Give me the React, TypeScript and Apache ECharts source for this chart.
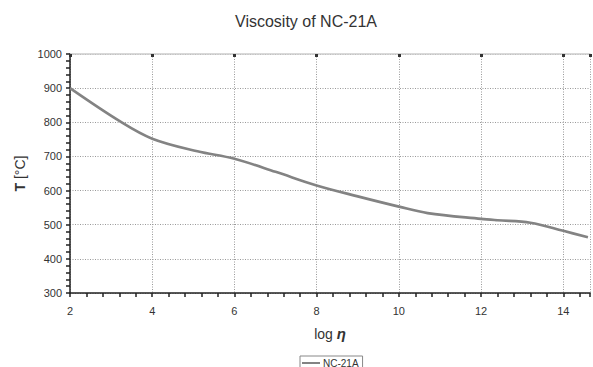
import React, { useEffect, useRef } from "react";
import * as echarts from "echarts";

// log viscosity (x) vs temperature (y)
const logEta = [2, 3.2, 4, 5.1, 6, 7, 8, 9, 10, 10.7, 12, 12.4, 13.2, 14, 14.6];
const tempC = [900, 804, 752, 715, 693, 655, 615, 583, 553, 534, 517, 513, 506, 482, 463];
const seriesName = "NC-21A";
const titleText = "Viscosity of NC-21A";

const FONT = "Liberation Sans, Arial, sans-serif";

export default function App() {
  const ref = useRef<HTMLDivElement>(null);

  useEffect(() => {
    if (!ref.current) return;
    const chart = echarts.init(ref.current, undefined, { renderer: "svg" });
    const data = logEta.map((x, i) => [x, tempC[i]]);
    chart.setOption({
      animation: false,
      backgroundColor: "#fff",
      textStyle: { fontFamily: FONT },
      title: {
        text: titleText,
        left: 230,
        top: 8,
        textStyle: { fontSize: 16, fontWeight: "normal", color: "#333", fontFamily: FONT },
      },
      legend: {
        data: [seriesName],
        left: 300,
        top: 356,
        itemWidth: 18,
        itemHeight: 2,
        itemGap: 2,
        padding: [2, 4, 2, 2],
        borderColor: "#888",
        borderWidth: 1,
        borderRadius: 0,
        icon: "rect",
        textStyle: { fontSize: 10, color: "#333", fontFamily: FONT, padding: [0, 0, 0, -2] },
      },
      grid: { left: 70, right: 1, top: 54, bottom: 74, containLabel: false },
      xAxis: [
        {
          type: "value",
          min: 2,
          max: 14.65,
          interval: 2,
          name: "{a|log }{b|η}",
          nameLocation: "middle",
          nameGap: 33,
          nameTextStyle: {
            rich: {
              a: { fontSize: 14, color: "#333", fontFamily: FONT },
              b: { fontSize: 15, color: "#333", fontWeight: "bold", fontStyle: "italic", fontFamily: FONT },
            },
          },
          axisLine: { show: true, onZero: false, lineStyle: { color: "#222", width: 1.5 } },
          axisTick: { show: true, length: 4, lineStyle: { color: "#222", width: 1.5 } },
          minorTick: { show: true, splitNumber: 5, length: 4, lineStyle: { color: "#222", width: 1.5 } },
          axisLabel: {
            margin: 12,
            fontSize: 11,
            color: "#333",
            fontFamily: FONT,
            formatter: (v: number) => (Math.abs(v % 2) < 1e-9 ? String(v) : ""),
          },
          splitLine: { show: true, lineStyle: { color: "#999", type: [1, 1.5], width: 1 } },
        },
        {
          type: "value",
          position: "top",
          min: 2,
          max: 14.65,
          interval: 2,
          axisLine: { show: true, lineStyle: { color: "#ccc", width: 1.5 } },
          axisTick: { show: true, inside: true, length: 3, lineStyle: { color: "#333", width: 3 } },
          axisLabel: { show: false },
          splitLine: { show: false },
        },
      ],
      yAxis: {
        type: "value",
        min: 300,
        max: 1000,
        interval: 100,
        name: "{a|T }{b|[°C]}",
        nameLocation: "middle",
        nameGap: 42,
        nameRotate: 90,
        nameTextStyle: {
          rich: {
            a: { fontSize: 14, color: "#333", fontWeight: "bold", fontFamily: FONT },
            b: { fontSize: 14, color: "#333", fontFamily: FONT },
          },
        },
        axisLine: { show: true, onZero: false, lineStyle: { color: "#222", width: 1.5 } },
        axisTick: { show: true, length: 4, lineStyle: { color: "#222", width: 1.5 } },
        minorTick: { show: true, splitNumber: 5, length: 4, lineStyle: { color: "#222", width: 1.5 } },
        axisLabel: {
          margin: 8,
          fontSize: 11,
          color: "#333",
          fontFamily: FONT,
          formatter: (v: number) => String(v),
        },
        splitLine: { show: true, lineStyle: { color: "#999", type: [1, 1.5], width: 1 } },
      },
      series: [
        {
          name: seriesName,
          type: "line",
          data,
          smooth: 0.35,
          symbol: "none",
          lineStyle: { color: "#838383", width: 2.6 },
          itemStyle: { color: "#838383" },
        },
      ],
    });
    return () => chart.dispose();
  }, []);

  return <div ref={ref} style={{ width: 593, height: 367, position: "absolute", left: 0, top: 0 }} />;
}
